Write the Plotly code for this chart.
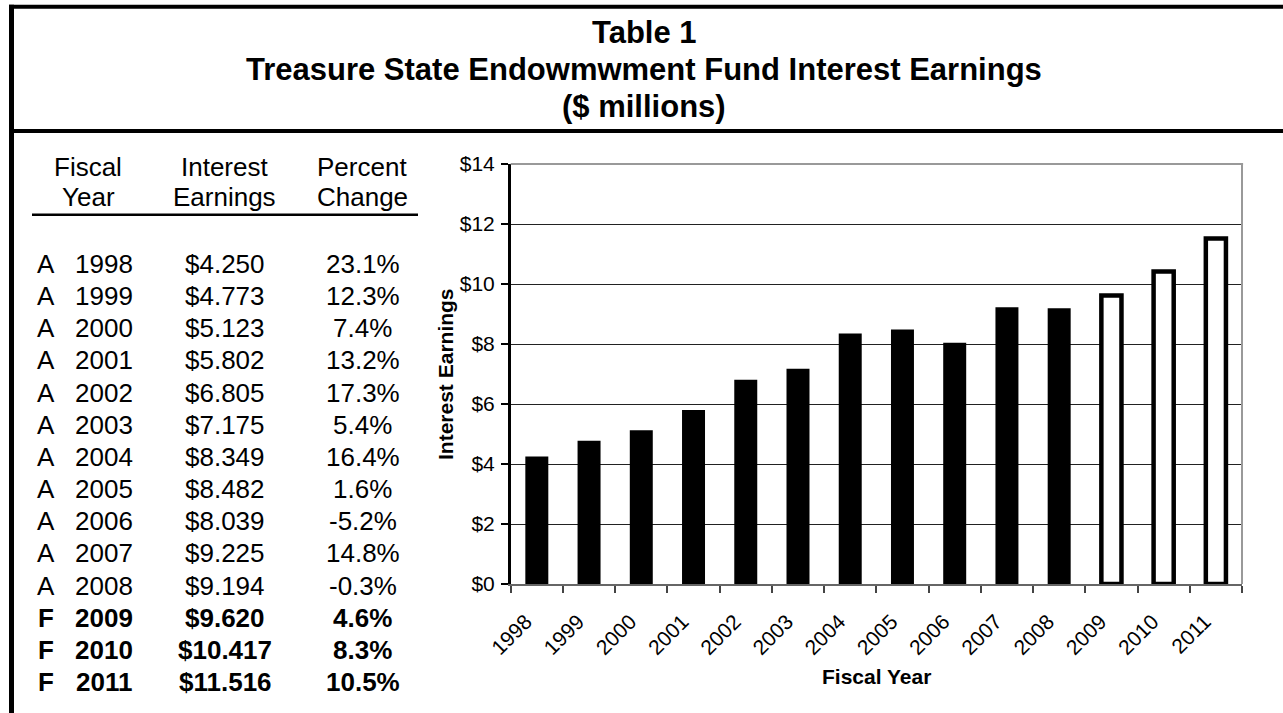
import plotly.graph_objects as go

# ---- data -------------------------------------------------------------
years = ["1998", "1999", "2000", "2001", "2002", "2003", "2004",
         "2005", "2006", "2007", "2008", "2009", "2010", "2011"]
status = ["A", "A", "A", "A", "A", "A", "A", "A", "A", "A", "A", "F", "F", "F"]
earnings = [4.250, 4.773, 5.123, 5.802, 6.805, 7.175, 8.349,
            8.482, 8.039, 9.225, 9.194, 9.620, 10.417, 11.516]
pct_change = [23.1, 12.3, 7.4, 13.2, 17.3, 5.4, 16.4,
              1.6, -5.2, 14.8, -0.3, 4.6, 8.3, 10.5]
y_ticks = [0, 2, 4, 6, 8, 10, 12, 14]
y_tick_text = ["$0", "$2", "$4", "$6", "$8", "$10", "$12", "$14"]

title_lines = ["Table 1",
               "Treasure State Endowmwment Fund Interest Earnings",
               "($ millions)"]
col_headers = [("Fiscal", "Year"), ("Interest", "Earnings"), ("Percent", "Change")]

# ---- page geometry (pixels) --------------------------------------------
W, H = 1283, 713
FONT = "Liberation Sans, Arial, sans-serif"


def X(px):
    return min(max(px / W, 0.0), 1.0)


def Y(py):
    return min(max(1 - py / H, 0.0), 1.0)


actual_x = [y for y, s in zip(years, status) if s == "A"]
actual_y = [v for v, s in zip(earnings, status) if s == "A"]
fcst_x = [y for y, s in zip(years, status) if s == "F"]
fcst_y = [v for v, s in zip(earnings, status) if s == "F"]

fig = go.Figure()
fig.add_trace(go.Bar(
    x=actual_x, y=actual_y, name="Actual", width=0.44,
    marker=dict(color="black", line=dict(width=0)),
))
fig.add_trace(go.Bar(
    x=fcst_x, y=fcst_y, name="Forecast", width=0.385,
    marker=dict(color="white", line=dict(color="black", width=4.5)),
))

shapes = [
    # frame of the table
    dict(type="line", xref="paper", yref="paper", x0=X(9), x1=X(W),
         y0=Y(6.8), y1=Y(6.8), line=dict(color="black", width=4)),
    dict(type="line", xref="paper", yref="paper", x0=X(9), x1=X(W),
         y0=Y(131), y1=Y(131), line=dict(color="black", width=4)),
    dict(type="line", xref="paper", yref="paper", x0=X(11.5), x1=X(11.5),
         y0=Y(4.8), y1=Y(H), line=dict(color="black", width=5)),
    # rule below the column headers
    dict(type="line", xref="paper", yref="paper", x0=X(32), x1=X(418),
         y0=Y(214.7), y1=Y(214.7), line=dict(color="black", width=2.5)),
    # plot-area border (top and right)
    dict(type="line", xref="x domain", yref="y domain", x0=0, x1=1.0015,
         y0=1, y1=1, line=dict(color="#999999", width=2)),
    dict(type="line", xref="x domain", yref="y domain", x0=1, x1=1,
         y0=0, y1=1, line=dict(color="#999999", width=2)),
]

annotations = []


def add_text(text, px, py, size, bold=False, angle=0):
    annotations.append(dict(
        text=text, xref="paper", yref="paper", x=X(px), y=Y(py),
        xanchor="center", yanchor="middle", showarrow=False, textangle=angle,
        font=dict(family=FONT, size=size, color="black",
                  weight="bold" if bold else "normal"),
    ))


# title block
for line, py in zip(title_lines, [32, 70, 107]):
    add_text(line, 644, py, 31, bold=True)

# column headers
header_x = [88, 224, 362]
for (l1, l2), px in zip(col_headers, header_x):
    add_text(l1, px, 167, 26)
    add_text(l2, px, 197, 26)

# table rows
row_y0, row_dy = 264, 32.15
for i, (yr, st, v, p) in enumerate(zip(years, status, earnings, pct_change)):
    py = row_y0 + i * row_dy
    bold = st == "F"
    add_text(st, 46, py, 26, bold)
    add_text(yr, 104, py, 26, bold)
    add_text(f"${v:.3f}", 225, py, 26, bold)
    add_text(f"{p:.1f}%", 362.5, py, 26, bold)

# axis titles
add_text("Interest Earnings", 445, 374, 21, bold=True, angle=-90)
add_text("Fiscal Year", 876, 676, 21, bold=True)

fig.update_layout(
    template="none",
    width=W, height=H, autosize=False,
    margin=dict(l=0, r=0, t=0, b=0, pad=0, autoexpand=False),
    paper_bgcolor="white", plot_bgcolor="white",
    barmode="overlay", showlegend=False,
    shapes=shapes, annotations=annotations,
    font=dict(family=FONT, color="black"),
)
fig.update_xaxes(
    domain=[X(510.7), X(1242)], automargin=False,
    type="category", categoryorder="array", categoryarray=years,
    tickson="boundaries", ticks="outside", ticklen=7, tickwidth=1.5,
    tickcolor="#444444", tickangle=-45,
    ticklabelstandoff=15, ticklabelshift=-11,
    tickfont=dict(family=FONT, size=21, color="black"),
    showline=True, linecolor="#666666", linewidth=2,
    showgrid=False, zeroline=False, fixedrange=True,
)
fig.update_yaxes(
    domain=[Y(584), Y(164)], automargin=False,
    range=[0, 14], tickvals=y_ticks, ticktext=y_tick_text,
    ticks="outside", ticklen=7, tickwidth=1.5, tickcolor="black",
    ticklabelstandoff=2,
    tickfont=dict(family=FONT, size=21, color="black"),
    showline=True, linecolor="black", linewidth=2.5,
    showgrid=True, gridcolor="#222222", gridwidth=1,
    zeroline=False, fixedrange=True,
)

# the page body gets no default margin so the figure fills the window exactly
fig.write_html(
    "out.html",
    config={"displayModeBar": False},
    post_script="document.body.style.margin='0';"
                "document.documentElement.style.overflow='hidden';",
)
